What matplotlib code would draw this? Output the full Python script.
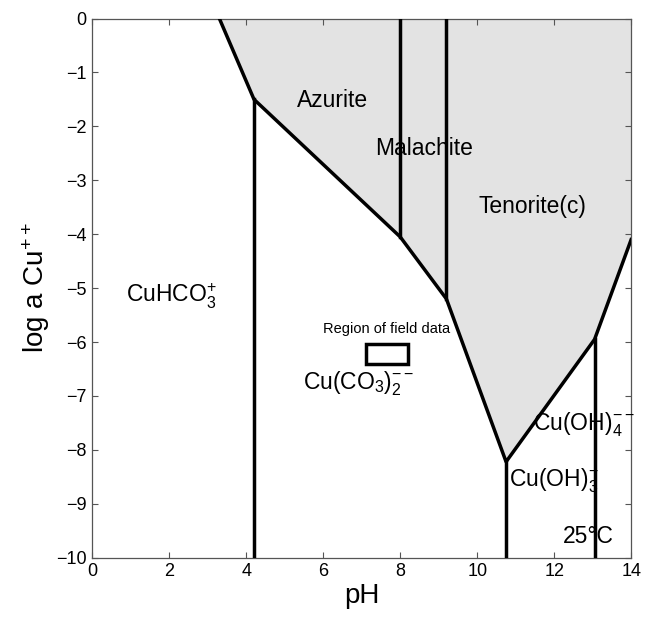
import matplotlib
matplotlib.use('Agg')
import matplotlib.pyplot as plt
from matplotlib.patches import Polygon, Rectangle

plt.rcParams['font.family'] = ['Liberation Sans', 'DejaVu Sans']
plt.rcParams['mathtext.fontset'] = 'custom'
plt.rcParams['mathtext.rm'] = 'Liberation Sans'
plt.rcParams['mathtext.it'] = 'Liberation Sans'
plt.rcParams['mathtext.default'] = 'regular'

# boundary vertices (pH, log a Cu++) along the solid-phase field
field_ph = [3.3, 4.2, 8.0, 9.2, 10.75, 13.05, 14.0]
field_loga = [0.0, -1.5, -4.05, -5.2, -8.22, -5.95, -4.1]

# vertical boundaries: pH, top, bottom
vert_ph = [4.2, 8.0, 9.2, 10.75, 13.05]
vert_top = [-1.5, 0.0, 0.0, -8.22, -5.95]
vert_bot = [-10.0, -4.05, -5.2, -10.0, -10.0]

# field data box
box_ph = [7.1, 8.2]
box_loga = [-6.4, -6.03]

labels = ['Azurite', 'Malachite', 'Tenorite(c)', r'CuHCO$_3^{+}$',
          r'Cu(CO$_3$)$_2^{--}$', r'Cu(OH)$_4^{--}$', r'Cu(OH)$_3^{-}$', '25°C']
label_x = [6.23, 8.62, 11.43, 2.05, 6.93, 12.78, 12.0, 12.9]
label_y = [-1.52, -2.41, -3.49, -5.16, -6.77, -7.53, -8.57, -9.6]

fig = plt.figure(figsize=(6.46, 6.17), dpi=100)
ax = fig.add_axes([0.143, 0.096, 0.834, 0.874])

shade = list(zip(field_ph, field_loga)) + [(14.0, 0.0)]
ax.add_patch(Polygon(shade, closed=True, facecolor='#e3e3e3', edgecolor='none', zorder=1))
ax.plot(field_ph, field_loga, color='black', lw=2.5, zorder=3)
for x, t, b in zip(vert_ph, vert_top, vert_bot):
    ax.plot([x, x], [t, b], color='black', lw=2.5, zorder=3)

ax.add_patch(Rectangle((box_ph[0], box_loga[0]), box_ph[1] - box_ph[0],
                       box_loga[1] - box_loga[0], fill=False, edgecolor='black', lw=2.5, zorder=3))
ax.text(sum(box_ph) / 2, -5.75, 'Region of field data', fontsize=10.5, ha='center', va='center')

for s, x, y in zip(labels, label_x, label_y):
    ax.text(x, y, s, fontsize=16.5, ha='center', va='center', zorder=4)

ax.set_xlim(0, 14)
ax.set_ylim(-10, 0)
ax.set_xticks(range(0, 15, 2))
ax.set_yticks(range(-10, 1))
ax.tick_params(direction='in', top=True, right=True, length=4, width=0.8,
               color='#555555', labelsize=13, pad=4)
for sp in ax.spines.values():
    sp.set_color('#555555')
    sp.set_linewidth(0.9)

ax.set_xlabel('pH', fontsize=20, labelpad=2)
ax.set_ylabel(r'log a Cu$^{++}$', fontsize=20, labelpad=3)

fig.savefig('out.png', dpi=100)
